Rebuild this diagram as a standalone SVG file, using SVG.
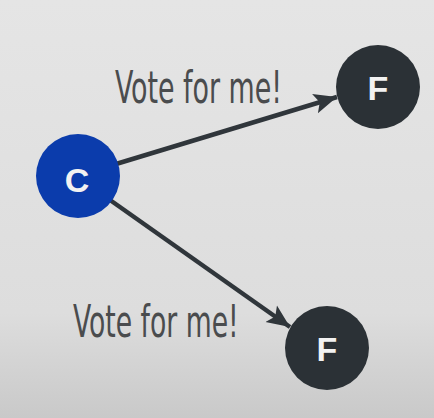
<svg xmlns="http://www.w3.org/2000/svg" width="434" height="418" viewBox="0 0 434 418">
  <defs>
    <linearGradient id="bg" x1="0" y1="0" x2="0" y2="1">
      <stop offset="0" stop-color="#e5e5e5"/>
      <stop offset="0.75" stop-color="#dddddd"/>
      <stop offset="1" stop-color="#c9c9c9"/>
    </linearGradient>
    <marker id="arrow" markerUnits="userSpaceOnUse" markerWidth="26" markerHeight="22" refX="23" refY="11" orient="auto">
      <path d="M0,1 L23,11 L0,21 L5,11 Z" fill="#30363b"/>
    </marker>
    <style>
      .node-c { fill: #0b3cac; }
      .node-f { fill: #2b3136; }
      .letter { font-family: "Liberation Sans", Arial, sans-serif; font-weight: bold; font-size: 34px; fill: #f2f2f2; text-anchor: middle; }
      .label { font-family: "DejaVu Sans Condensed", "Liberation Sans", sans-serif; font-size: 45px; fill: #4a4c4e; }
      .edge { stroke: #30363b; stroke-width: 4.5; fill: none; marker-end: url(#arrow); }
    </style>
  </defs>
  <rect width="434" height="418" fill="url(#bg)"/>
  <g id="connectors">
    <line class="edge" x1="116" y1="164" x2="337" y2="97"/>
    <line class="edge" x1="110" y1="200" x2="290" y2="327"/>
  </g>
  <g id="label-top" transform="translate(115,103) scale(0.655,1)">
    <text class="label" x="0" y="0" textLength="255" lengthAdjust="spacingAndGlyphs">Vote for me!</text>
  </g>
  <g id="label-bottom" transform="translate(73,337) scale(0.655,1)">
    <text class="label" x="0" y="0" textLength="253" lengthAdjust="spacingAndGlyphs">Vote for me!</text>
  </g>
  <g id="node-c">
    <circle class="node-c" cx="78" cy="176" r="42"/>
    <text class="letter" x="77" y="192">C</text>
  </g>
  <g id="node-f-top">
    <circle class="node-f" cx="378" cy="87" r="42"/>
    <text class="letter" x="378" y="100">F</text>
  </g>
  <g id="node-f-bottom">
    <circle class="node-f" cx="327" cy="348" r="42"/>
    <text class="letter" x="327" y="361">F</text>
  </g>
</svg>
